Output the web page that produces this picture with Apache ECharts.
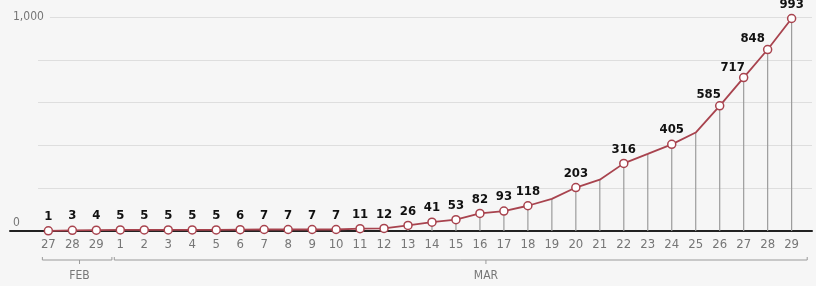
<!DOCTYPE html>
<html>
<head>
<meta charset="utf-8">
<script src="https://cdn.jsdelivr.net/npm/echarts@6/dist/echarts.min.js"></script>
<style>
  html, body { margin: 0; padding: 0; background: #f6f6f6; }
  #chart { width: 816px; height: 286px; }
</style>
</head>
<body>
<div id="chart"></div>
<script>
// day labels, Feb 27 .. Mar 29
const days = ['27', '28', '29', '1', '2', '3', '4', '5', '6', '7', '8', '9', '10', '11', '12',
  '13', '14', '15', '16', '17', '18', '19', '20', '21', '22', '23', '24', '25', '26', '27', '28', '29'];
// cumulative cases (19, 21, 23, 25 Mar read off the drop lines, not labelled)
const cases = [1, 3, 4, 5, 5, 5, 5, 5, 6, 7, 7, 7, 7, 11, 12, 26, 41, 53, 82, 93, 118,
  150, 203, 240, 316, 360, 405, 460, 585, 717, 848, 993];
const unlabelled = [21, 23, 25, 27];
const months = ['FEB', 'MAR'];
const monthFirst = [0, 3];
const monthLast = [2, 31];
const yTicks = [0, 1000];
const yTickLabels = ['0', '1,000'];

const RED = '#a8434e';
const GREY_TXT = '#767676';
const FONT = "'Liberation Sans Narrow', 'DejaVu Sans Condensed', sans-serif";

// label nudges where the line gets steep
const labelShift = { 28: [-11, 3], 29: [-11, 4], 30: [-15, 3] };
// where the month mark sits along its bracket
const monthMarkAt = [1.3, 18.25];

const lineData = cases.map((v, i) => {
  const item = { value: [i, v] };
  if (unlabelled.includes(i)) {
    item.symbol = 'none';
    item.label = { show: false };
  } else if (labelShift[i]) {
    item.label = { offset: labelShift[i] };
  }
  return item;
});

const chart = echarts.init(document.getElementById('chart'));

chart.setOption({
  backgroundColor: '#f6f6f6',
  animation: false,
  grid: [
    { left: 10, right: 4, top: 17, bottom: 55 },
    { left: 38, right: 4, top: 17, bottom: 55 }
  ],
  xAxis: [
    {
      type: 'value', gridIndex: 0, min: -1.6, max: 31.85,
      splitLine: { show: false },
      axisTick: { show: false },
      axisLine: { show: true, onZero: true, lineStyle: { color: '#222', width: 2 } },
      axisLabel: {
        customValues: days.map((d, i) => i),
        formatter: v => days[v],
        color: GREY_TXT, fontSize: 13, fontFamily: FONT, margin: 7
      }
    },
    { type: 'value', gridIndex: 1, min: 0, max: 1, show: false }
  ],
  yAxis: [
    {
      type: 'value', gridIndex: 0, min: 0, max: 1000,
      splitLine: { show: false },
      axisLine: { show: false },
      axisTick: { show: false },
      axisLabel: {
        inside: true, margin: 3, align: 'left',
        customValues: yTicks,
        formatter: v => v === 0 ? '{z|' + yTickLabels[0] + '}' : '{t|' + yTickLabels[1] + '}',
        color: GREY_TXT, fontSize: 12, fontFamily: FONT,
        rich: {
          z: { padding: [0, 0, 17, 0], color: GREY_TXT, fontSize: 12, fontFamily: FONT },
          t: { padding: [2, 6, 2, 0], backgroundColor: '#f6f6f6', color: GREY_TXT, fontSize: 12, fontFamily: FONT }
        }
      }
    },
    {
      type: 'value', gridIndex: 1, min: 0, max: 1000, interval: 200,
      axisLine: { show: false }, axisTick: { show: false }, axisLabel: { show: false },
      splitLine: { lineStyle: { color: '#dedede', width: 1 } }
    }
  ],
  series: [
    {
      type: 'bar',
      xAxisIndex: 0, yAxisIndex: 0,
      barWidth: 1.2,
      silent: true,
      itemStyle: { color: '#9c9c9c' },
      data: cases.map((v, i) => [i, v]),
      z: 1
    },
    {
      type: 'line',
      xAxisIndex: 0, yAxisIndex: 0,
      data: lineData,
      symbol: 'circle',
      symbolSize: 8,
      lineStyle: { color: RED, width: 1.8 },
      itemStyle: { color: '#fff', borderColor: RED, borderWidth: 1.5 },
      label: {
        show: true, position: 'top', distance: 3,
        formatter: p => p.value[1],
        color: '#111', fontWeight: 'bold', fontSize: 13, fontFamily: FONT
      },
      z: 3
    },
    {
      type: 'custom',
      xAxisIndex: 0, yAxisIndex: 0,
      silent: true,
      clip: false,
      data: months.map((m, k) => [monthFirst[k], monthLast[k], monthMarkAt[k], 0]),
      renderItem: (params, api) => {
        const k = params.dataIndex;
        const x0 = api.coord([api.value(0) - 0.25, 0])[0];
        const x1 = api.coord([api.value(1) + 0.65, 0])[0];
        const xm = api.coord([api.value(2), 0])[0];
        const y = api.coord([0, 0])[1] + 29;
        const stroke = { stroke: '#9a9a9a', lineWidth: 1, fill: null };
        return {
          type: 'group',
          children: [
            { type: 'polyline', shape: { points: [[x0, y - 3], [x0, y], [x1, y], [x1, y - 3]] }, style: stroke },
            { type: 'line', shape: { x1: xm, y1: y, x2: xm, y2: y + 4 }, style: stroke },
            {
              type: 'text',
              style: {
                text: months[k], x: xm, y: y + 16,
                align: 'center', verticalAlign: 'middle',
                fill: GREY_TXT, fontSize: 12, fontFamily: FONT
              }
            }
          ]
        };
      }
    }
  ]
});
</script>
</body>
</html>
